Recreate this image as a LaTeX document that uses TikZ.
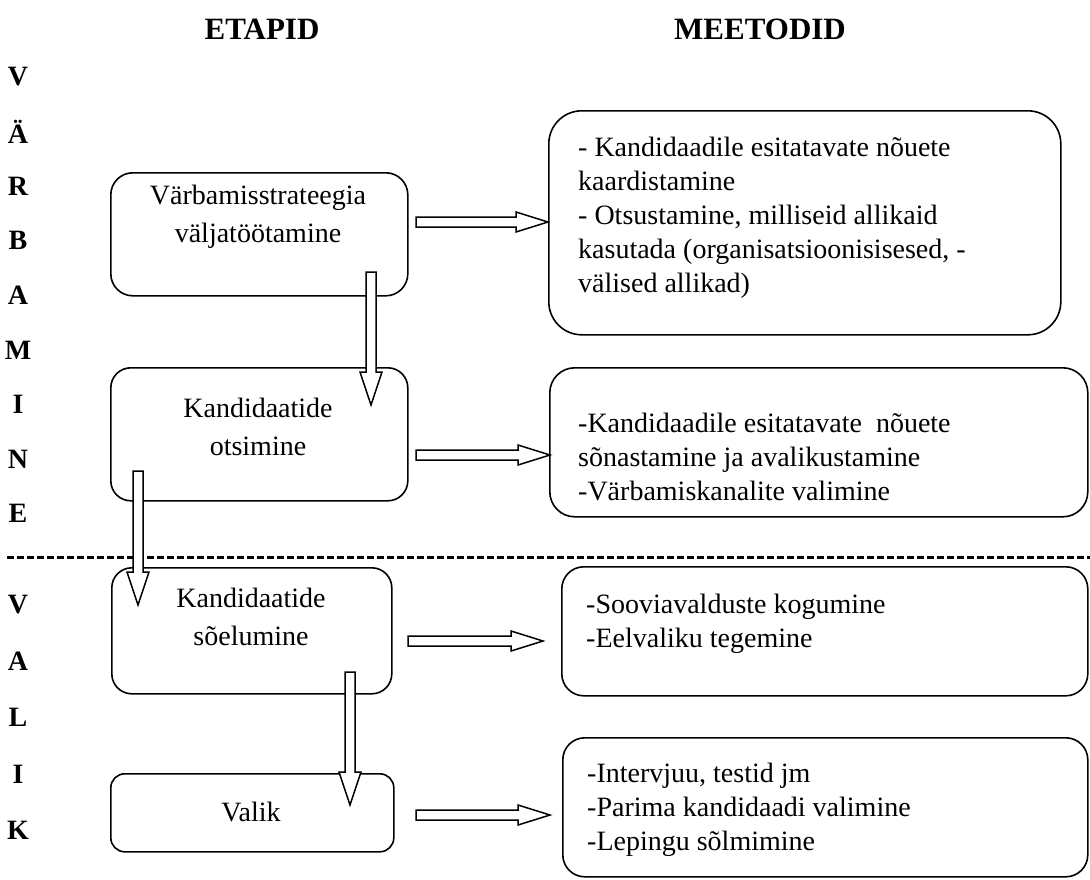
\documentclass[tikz,border=0pt]{standalone}
\usepackage{fontspec}
\setmainfont{Liberation Serif}
\usetikzlibrary{calc}
\tikzset{
  box/.style={draw, line width=1.6pt, anchor=north west, inner sep=0pt},
  ltxt/.style={align=center, inner sep=0pt, font=\fontsize{28}{38}\selectfont},
  rtxt/.style={align=left, anchor=west, inner sep=0pt, font=\fontsize{28}{34}\selectfont},
  hdr/.style={inner sep=0pt, font=\fontsize{31}{36}\selectfont\bfseries},
  letter/.style={inner sep=0pt, font=\fontsize{28}{34}\selectfont\bfseries},
  blk/.style={draw, fill=white, line width=1.5pt, line join=miter},
  sep/.style={line width=3pt, dash pattern=on 7pt off 3pt}
}
\newcommand\rightblk[2]{\draw[blk] let \p1=(#1), \p2=(#2) in
  (\x1,\y1+5pt) -- (\x2-32pt,\y1+5pt) -- (\x2-32pt,\y1+10pt) -- (\x2,\y1)
  -- (\x2-32pt,\y1-10pt) -- (\x2-32pt,\y1-5pt) -- (\x1,\y1-5pt) -- cycle;}
\newcommand\downblk[2]{\draw[blk] let \p1=(#1), \p2=(#2) in
  (\x1-5pt,\y1) -- (\x1-5pt,\y2+33pt) -- (\x1-11pt,\y2+33pt) -- (\x1,\y2)
  -- (\x1+11pt,\y2+33pt) -- (\x1+5pt,\y2+33pt) -- (\x1+5pt,\y1) -- cycle;}
\begin{document}
\begin{tikzpicture}[x=1pt,y=-1pt]
\useasboundingbox (0,0) rectangle (1090,879);

% headers
\node[hdr] (h1) at (262,29) {ETAPID};
\node[hdr] (h2) at (760,29) {MEETODID};

% vertical letters
\foreach \l [count=\i from 0] in {V,Ä,R,B,A,M,I,N,E}
  \node[letter] (va\i) at (18,{77+54.6*\i}) {\l};
\foreach \l [count=\i from 0] in {V,A,L,I,K}
  \node[letter] (vb\i) at (18,{605+56.3*\i}) {\l};

% left boxes
\node[box, minimum width=297pt, minimum height=123pt, rounded corners=22pt] (b1) at (110,172) {};
\node[box, minimum width=297pt, minimum height=133pt, rounded corners=20pt] (b2) at (110,367) {};
\node[box, minimum width=280pt, minimum height=126pt, rounded corners=20pt] (b3) at (111,567) {};
\node[box, minimum width=283pt, minimum height=78pt, rounded corners=14pt] (b4) at (110,773) {};

\node[ltxt] (t1) at (258,217) {Värbamisstrateegia\\väljatöötamine};
\node[ltxt] (t2) at (258,427) {Kandidaatide\\otsimine};
\node[ltxt] (t3) at (251,617) {Kandidaatide\\sõelumine};
\node[ltxt] (t4) at (251,812) {Valik};

% right boxes
\node[box, minimum width=512pt, minimum height=224pt, rounded corners=33pt] (rb1) at (548,110) {};
\node[box, minimum width=538pt, minimum height=149pt, rounded corners=25pt] (rb2) at (549,367) {};
\node[box, minimum width=526pt, minimum height=129pt, rounded corners=22pt] (rb3) at (561,566) {};
\node[box, minimum width=525pt, minimum height=139pt, rounded corners=22pt] (rb4) at (562,737) {};

\node[rtxt] (r1) at (578,218) {- Kandidaadile esitatavate nõuete\\kaardistamine\\- Otsustamine, milliseid allikaid\\kasutada (organisatsioonisisesed, -\\välised allikad)};
\node[rtxt] (r2) at (578,457) {-Kandidaadile esitatavate~ nõuete\\sõnastamine ja avalikustamine\\-Värbamiskanalite valimine};
\node[rtxt] (r3) at (586,624) {-Sooviavalduste kogumine\\-Eelvaliku tegemine};
\node[rtxt] (r4) at (587,810) {-Intervjuu, testid jm\\-Parima kandidaadi valimine\\-Lepingu sõlmimine};

% separator
\coordinate (sepL) at (7,557);
\coordinate (sepR) at (1090,557);
\draw[sep] (sepL) -- (sepR);

% arrows
\coordinate (a1s) at (416,222);
\rightblk{a1s}{rb1.west}
\coordinate (a2s) at (416,455); \coordinate (a2e) at (550,455);
\rightblk{a2s}{a2e}
\coordinate (a3s) at (408,641); \coordinate (a3e) at (543,641);
\rightblk{a3s}{a3e}
\coordinate (a4s) at (416,815); \coordinate (a4e) at (550,815);
\rightblk{a4s}{a4e}

\coordinate (d1s) at (371,272); \coordinate (d1e) at (371,405);
\downblk{d1s}{d1e}
\coordinate (d2s) at (138,471); \coordinate (d2e) at (138,605);
\downblk{d2s}{d2e}
\coordinate (d3s) at (350,672); \coordinate (d3e) at (350,805);
\downblk{d3s}{d3e}
\end{tikzpicture}
\end{document}
